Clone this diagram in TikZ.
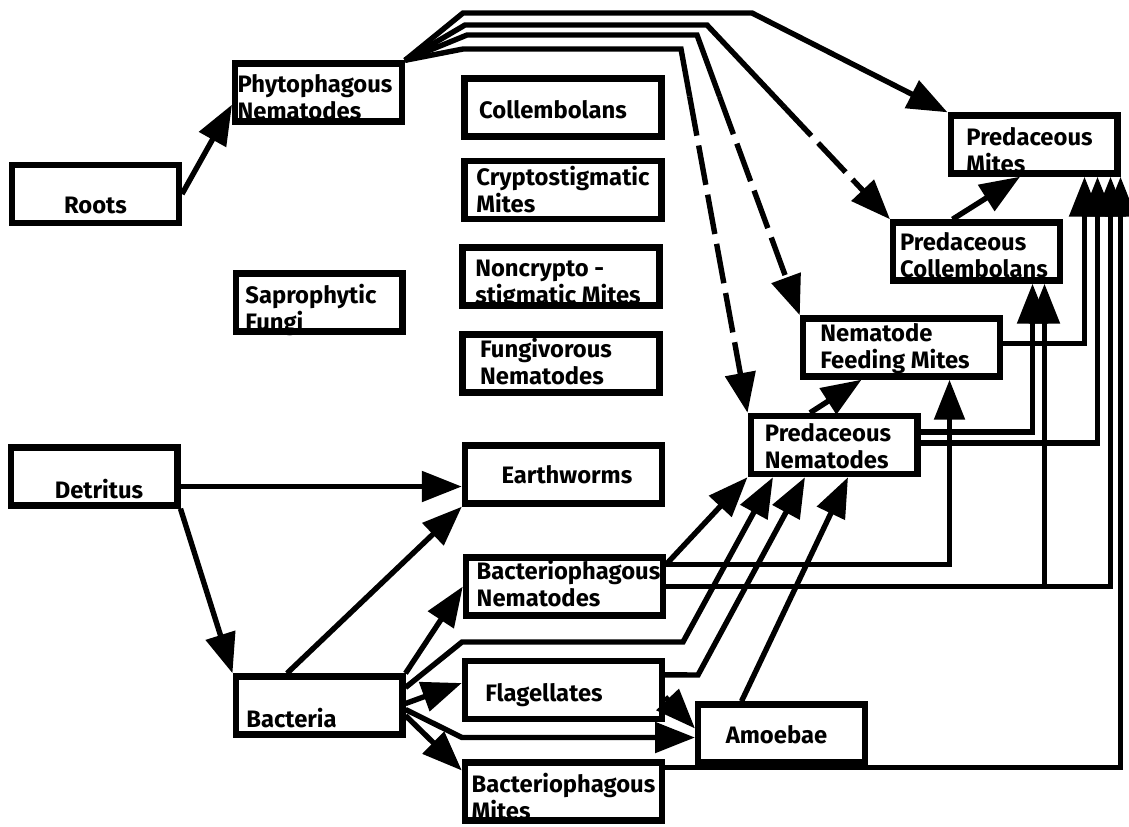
\documentclass[tikz,border=0pt]{standalone}
\usepackage{fontspec}
\setmainfont{Fira Sans}
\usetikzlibrary{arrows.meta,calc}
\tikzset{
  cell/.style={draw,line width=3.2pt,minimum width=83.3pt,minimum height=29pt,inner sep=0pt},
  widecell/.style={cell,minimum width=98.5pt},
  txt/.style={font=\fontsize{11.9}{13.5}\selectfont\bfseries,align=left,inner sep=0pt},
  link/.style={line width=2.7pt},
  flow/.style={link,-{Triangle[length=20pt,width=15pt]}},
  broken/.style={flow,dash pattern=on 20pt off 5pt}
}

\begin{document}
\begin{tikzpicture}[x=0.5pt,y=-0.5pt]
  \useasboundingbox (0,0) rectangle (1129,826);

  % left column
  \node[cell,label={[txt,xshift=-1.75pt,yshift=-2.5pt]center:Phytophagous\\Nematodes}] (phyto) at (318.5,92.5) {};
  \node[cell,label={[txt,yshift=-5.5pt]center:Roots}] (roots) at (95.5,194) {};
  \node[cell,label={[txt,xshift=-4pt,yshift=-3.5pt]center:Saprophytic\\Fungi}] (sapro) at (319,302.5) {};
  \node[cell,label={[txt,xshift=2.5pt,yshift=-6.25pt]center:Detritus}] (detritus) at (94,476.5) {};
  \node[cell,label={[txt,xshift=-13.75pt,yshift=-6.25pt]center:Bacteria}] (bact) at (319,705.5) {};

  % middle column
  \node[widecell,label={[txt,xshift=-5pt,yshift=-1.25pt]center:Collembolans}] (coll) at (563,107.5) {};
  \node[widecell,label={[txt]center:Cryptostigmatic\\Mites}] (crypt) at (563,190) {};
  \node[widecell,label={[txt,xshift=-1.5pt,yshift=-4pt]center:Noncrypto -\\stigmatic Mites}] (noncr) at (561,276.5) {};
  \node[widecell,label={[txt,xshift=-7.5pt,yshift=1pt]center:Fungivorous\\Nematodes}] (fungi) at (561,363.5) {};
  \node[widecell,label={[txt,xshift=1.75pt]center:Earthworms}] (earth) at (563.5,474.5) {};
  \node[widecell,label={[txt,xshift=2pt,yshift=1.25pt]center:Bacteriophagous\\Nematodes}] (bnem) at (564.5,586.5) {};
  \node[widecell,label={[txt,xshift=-9.75pt,yshift=-2.5pt]center:Flagellates}] (flag) at (563.5,690) {};
  \node[widecell,label={[txt,yshift=-2.5pt]center:Bacteriophagous\\Mites}] (bmite) at (563.5,791.5) {};
  \node[cell,label={[txt,xshift=-2.5pt,yshift=-0.75pt]center:Amoebae}] (amoeb) at (781.5,733.5) {};

  % predators
  \node[cell,label={[txt,xshift=-2.25pt,yshift=-2.75pt]center:Predaceous\\Mites}] (pmite) at (1034,144.5) {};
  \node[cell,label={[txt,xshift=-1.25pt,yshift=-2pt]center:Predaceous\\Collembolans}] (pcoll) at (976.5,251.5) {};
  \node[widecell,label={[txt,xshift=-3.25pt,yshift=-0.5pt]center:Nematode\\Feeding Mites}] (nfm) at (901.5,347.5) {};
  \node[cell,label={[txt,xshift=-3pt,yshift=-0.5pt]center:Predaceous\\Nematodes}] (pnem) at (834,445) {};

  % roots and phytophagous nematodes
  \draw[flow] (roots.east) -- (phyto.188);
  \draw[flow] (phyto.north east) -- (463,13) -- (752,13) -- (pmite.north west);
  \coordinate (kinkA) at (707,25);
  \coordinate (kinkB) at (697,35);
  \coordinate (kinkC) at (681,49);
  \draw[link] (phyto.north east) -- (465,25) -- (kinkA) -- ($(kinkA)!0.42!(pcoll.north west)$) coordinate (dashA);
  \draw[broken] (dashA) -- (pcoll.north west);
  \draw[link] (phyto.north east) -- (467,35) -- (kinkB) -- ($(kinkB)!0.22!(nfm.north west)$) coordinate (dashB);
  \draw[broken] (dashB) -- (nfm.north west);
  \draw[link] (phyto.north east) -- (463,49) -- (kinkC) -- ($(kinkC)!0.13!(pnem.north west)$) coordinate (dashC);
  \draw[broken] (dashC) -- (pnem.north west);

  % detritus and bacteria
  \draw[flow] ([yshift=-5pt]detritus.east) -- ([yshift=-6pt]earth.west);
  \draw[flow] (detritus.south east) -- (bact.north west);
  \draw[flow] ([xshift=-16pt]bact.north) -- (earth.south west);
  \draw[flow] (bact.north east) -- (bnem.west);
  \draw[flow] ([yshift=9pt]bact.east) -- (462,642) -- (683,642) -- ([xshift=-30.5pt]pnem.south);
  \draw[flow] ([yshift=1pt]bact.east) -- ([yshift=3.5pt]flag.west);
  \draw[flow] ([yshift=-2pt]bact.east) -- (462,737.5) -- ([yshift=-2pt]amoeb.west);
  \draw[flow] ([yshift=-5pt]bact.east) -- ([yshift=10.5pt]bmite.west);

  % protozoa and nematodes
  \draw[flow] ([yshift=-3.5pt]flag.east) -- ([yshift=2.5pt]amoeb.west);
  \draw[flow] ([yshift=-8.5pt]flag.north east) -- (698,675) -- ([xshift=-14.5pt]pnem.south);
  \draw[flow] ([xshift=-20pt]amoeb.north) -- ([xshift=7pt]pnem.south);
  \draw[flow] ([yshift=-5pt]bnem.north east) -- (pnem.south west);
  \draw[flow] ([yshift=-5pt]bnem.north east) -| ([xshift=24pt]nfm.south);
  \draw[flow] (bnem.east) -| ([xshift=34pt]pcoll.south);
  \draw[flow] (bnem.east) -| ([xshift=-5pt]pmite.south east);
  \draw[flow] ([yshift=-4pt]bmite.north east) -| (pmite.south east);

  % predators
  \draw[flow] ([xshift=-12pt]pnem.north) -- ([xshift=-20pt]nfm.south);
  \draw[flow] ([yshift=6.5pt]pnem.east) -| ([xshift=28pt]pcoll.south);
  \draw[flow] ([yshift=1pt]pnem.east) -| ([xshift=-11.5pt]pmite.south east);
  \draw[flow] ([yshift=2pt]nfm.east) -| ([xshift=-18pt]pmite.south east);
  \draw[flow] ([xshift=-12pt]pcoll.north) -- ([xshift=-7pt]pmite.south);
\end{tikzpicture}
\end{document}
